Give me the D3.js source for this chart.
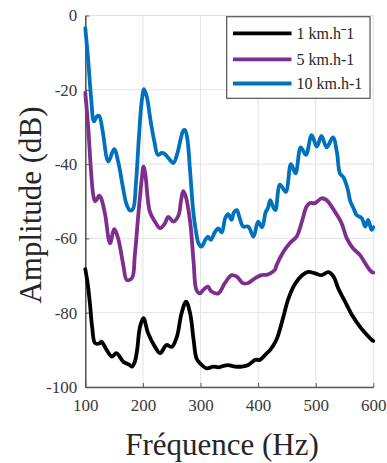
<!DOCTYPE html>
<html>
<head>
<meta charset="utf-8">
<script src="https://cdn.jsdelivr.net/npm/d3@7"></script>
<style>
  html, body { margin: 0; padding: 0; background: #fff; }
  svg { display: block; }
</style>
</head>
<body>
<svg id="chart" width="387" height="463"></svg>
<script>
// ---- data ----
const seriesNames = ["1 km.h\u02C91", "5 km.h-1", "10 km.h-1"];
const xTicks = [100, 200, 300, 400, 500, 600];
const yTicks = [0, -20, -40, -60, -80, -100];

const freq1 = [100,104,108,112,117,125,128,137,146,154,166,176,181,186,190,195,201,209,221,230,241,250,259,267,275,282,288,293,299,311,322,331,340,348,360,372,383,395,403,412,421,432,444,452,464,476,487,499,510,522,531,539,551,563,577,589,597,600];
const amp1  = [-68.3,-72,-77.5,-84,-88.2,-88.2,-87.8,-90,-91.8,-90.9,-93.2,-94,-94.5,-93.2,-90,-83.8,-81.5,-85.5,-89.2,-90.9,-88.7,-89.2,-86.5,-80.2,-77,-80.2,-87.3,-92.3,-93.6,-95,-94.5,-94.7,-94.3,-94.1,-94.5,-94.5,-94.1,-92.7,-92.7,-91.4,-90,-87.2,-81,-76.5,-72.3,-70,-69,-69.4,-69.9,-69.1,-70.3,-73.4,-77,-80.6,-83.8,-86,-87.3,-87.6];

const freq5 = [100,105,110,114,117,120,124,127,134,143,150,157,166,172,181,186,192,198,201,204,212,221,230,238,244,253,262,266,270,274,282,288,293,299,304,308,313,319,331,342,354,363,374,383,395,406,415,421,429,432,444,455,467,476,484,490,499,510,519,528,537,545,554,565,577,588,597,600];
const amp5  = [-20.8,-30,-42,-48.5,-50,-49.5,-48.5,-49,-53.2,-61.3,-57.5,-60,-67.2,-71.2,-70.7,-64.5,-53.7,-44,-40.7,-42.5,-52.8,-55.5,-57.3,-56,-54.2,-55.5,-53.7,-50,-47.3,-48.5,-55.5,-66.3,-73.9,-74.8,-74,-73.4,-73,-74.3,-74.8,-72.1,-69.9,-70.3,-72.1,-72,-70.7,-69.9,-69.8,-69.4,-68.5,-67.2,-63.6,-61.3,-59.5,-55.5,-51.5,-50.5,-50.5,-49.2,-49.7,-51.5,-53.7,-55.9,-60,-62.7,-64.5,-67.2,-69,-69.2];

const freq10 = [100,105,110,115,120,124,130,140,150,158,165,172,178,183,188,193,198,202,207,213,220,226,233,238,245,253,260,266,270,273,277,282,287,292,297,302,308,313,318,325,331,337,343,348,354,358,363,368,374,383,392,400,407,413,417,421,426,430,438,448,457,465,474,483,493,502,510,519,530,537,542,548,551,556,560,566,571,580,586,591,597,600];
const amp10  = [-3.4,-12,-22,-28.5,-27.2,-27,-31,-39.3,-36,-40,-46,-51,-52.5,-52,-45,-33,-23,-19.8,-22,-28,-34,-37.5,-37,-37.3,-38.5,-39.7,-37,-33,-31,-30.8,-33,-42,-52,-58,-61.5,-62.2,-60.5,-59.5,-60.4,-58.3,-57.3,-58.4,-54.5,-53.5,-55,-53,-52.4,-54.5,-56.8,-56.8,-59.5,-55.5,-57,-53,-51.9,-49.7,-51.5,-52.4,-45.5,-47.5,-40,-42.5,-35.5,-37.5,-32.2,-35.3,-32.4,-35.5,-32.8,-37,-42.5,-43.5,-44.5,-47,-50,-52,-53.7,-54.6,-56.8,-55,-57.7,-57];

const colors = ["#000000", "#7E2F8E", "#0072BD"];

// ---- layout ----
const svg = d3.select("#chart");
const L = 85.3, R = 373.3, T = 15.5, B = 387;
const x = d3.scaleLinear().domain([100, 600]).range([L, R]);
const y = d3.scaleLinear().domain([-100, 0]).range([B, T]);
const serif = "'Liberation Serif', 'DejaVu Serif', serif";

// grid
const g = svg.append("g");
g.selectAll(".vg").data(xTicks).enter().append("line")
  .attr("x1", d => x(d)).attr("x2", d => x(d)).attr("y1", T).attr("y2", B)
  .attr("stroke", "#e3e3e3").attr("stroke-width", 1);
g.selectAll(".hg").data(yTicks).enter().append("line")
  .attr("y1", d => y(d)).attr("y2", d => y(d)).attr("x1", L).attr("x2", R)
  .attr("stroke", "#e3e3e3").attr("stroke-width", 1);

// axes
const xAxis = d3.axisBottom(x).tickValues(xTicks).tickSizeInner(-4).tickSizeOuter(0).tickPadding(12);
const yAxis = d3.axisLeft(y).tickValues(yTicks).tickSizeInner(-4).tickSizeOuter(0).tickPadding(8).tickFormat(d => d === 0 ? "0" : "-" + Math.abs(d));
const gx = svg.append("g").attr("transform", `translate(0,${B})`).call(xAxis);
const gy = svg.append("g").attr("transform", `translate(${L},0)`).call(yAxis);
[gx, gy].forEach(a => {
  a.select(".domain").attr("stroke", "#595959").attr("stroke-width", 1.6);
  a.selectAll(".tick line").attr("stroke", "#595959").attr("stroke-width", 1);
  a.selectAll(".tick text").attr("font-family", serif).attr("font-size", 17).attr("fill", "#3a3a3a");
});

// lines
const line = d3.line().x(d => x(d[0])).y(d => y(d[1])).curve(d3.curveCatmullRom.alpha(0.5));
const series = [d3.zip(freq1, amp1), d3.zip(freq5, amp5), d3.zip(freq10, amp10)];
svg.append("g").selectAll("path").data(series).enter().append("path")
  .attr("d", line).attr("fill", "none")
  .attr("stroke", (d, i) => colors[i]).attr("stroke-width", 3.8)
  .attr("stroke-linejoin", "round").attr("stroke-linecap", "round");

// axis titles
svg.append("text").attr("x", 222).attr("y", 455).attr("text-anchor", "middle")
  .attr("font-family", serif).attr("font-size", 31).attr("fill", "#262626")
  .text("Fréquence (Hz)");
svg.append("text").attr("transform", "translate(41,205) rotate(-90)").attr("text-anchor", "middle")
  .attr("font-family", serif).attr("font-size", 31).attr("fill", "#262626")
  .text("Amplitude (dB)");

// legend
const lg = svg.append("g");
lg.append("rect").attr("x", 226.7).attr("y", 16.7).attr("width", 143.3).attr("height", 81.6)
  .attr("fill", "#fff").attr("stroke", "#555").attr("stroke-width", 1.2);
const rows = [33.3, 59.3, 83.5];
seriesNames.forEach((n, i) => {
  lg.append("line").attr("x1", 233).attr("x2", 291.5).attr("y1", rows[i]).attr("y2", rows[i])
    .attr("stroke", colors[i]).attr("stroke-width", 3.8);
  lg.append("text").attr("x", 296.5).attr("y", rows[i] + 5.5)
    .attr("font-family", serif).attr("font-size", 16).attr("fill", "#262626").text(n);
});
</script>
</body>
</html>
